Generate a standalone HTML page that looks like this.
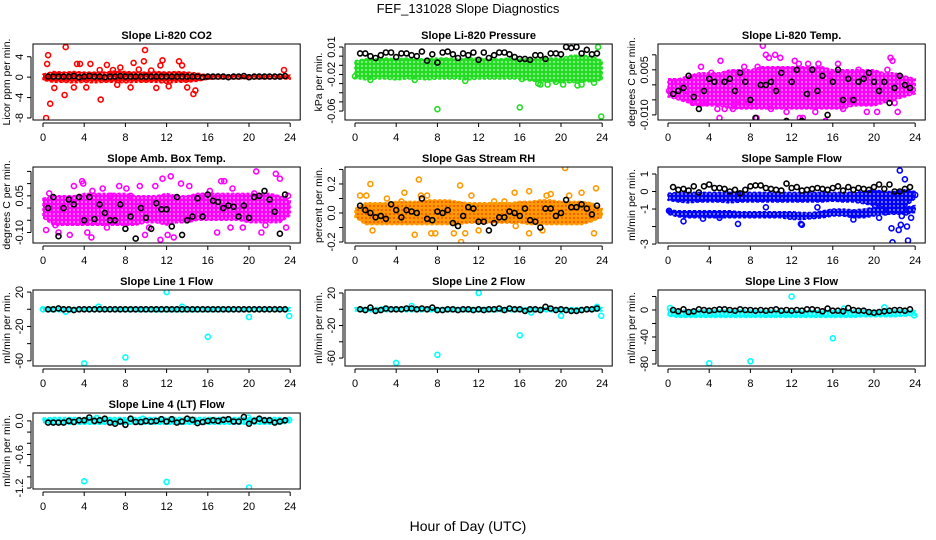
<!DOCTYPE html>
<html><head><meta charset="utf-8"><title>FEF_131028 Slope Diagnostics</title>
<style>
html,body{margin:0;padding:0;background:#fff;}
svg{display:block;font-family:"Liberation Sans",Arial,sans-serif;}
</style></head>
<body>
<svg id="chart" width="936" height="540" viewBox="0 0 936 540" xmlns="http://www.w3.org/2000/svg">
<rect x="0" y="0" width="936" height="540" fill="#fff"/>
<text x="468" y="13" text-anchor="middle" font-size="13">FEF_131028  Slope Diagnostics</text>
<text x="468" y="531" text-anchor="middle" font-size="14">Hour of Day (UTC)</text>
</svg>
<script>
// ---- data (hours 0..24 for bands; black series at 0.5h steps) ----
const bandHours = [0,1,2,3,4,5,6,7,8,9,10,11,12,13,14,15,16,17,18,19,20,21,22,23,24];
const xTicks = [0,4,8,12,16,20,24];

const co2BandLo = [-0.6,-1,-1,-1.1,-1,-1.1,-1,-1,-1.1,-1,-1,-1,-1.2,-1,-1,-0.8,-0.4,-0.3,-0.3,-0.3,-0.3,-0.3,-0.3,-0.3,-0.4];
const co2BandHi = [0.6,1.1,1,1.1,1,1,1,1.2,1.1,1,1,1.1,1,1.1,1,0.8,0.4,0.3,0.3,0.3,0.3,0.3,0.3,0.3,0.4];
const co2ScatH = [0.3,0.5,0.4,0.7,2.2,2.1,3.3,3.6,4.6,5.6,5.5,6.2,7.5,8.5,8.8,9.9,9.8,11.4,11.6,11,13.2,13.5,14.6,14.8,14,12.2,1.1,3,23.4,9.3,4.2,6.8,10.5,7.2];
const co2ScatV = [-8,4.3,2.6,-5.2,5.9,-3.5,2.6,2.6,2.6,-4.4,1.4,2.4,1.9,-2,2.8,5.3,3.1,2.3,3.3,-2.1,3.1,2.3,-3.3,-2.6,-2,-1.8,-2.1,-2,1.4,1.5,-2,1.4,1.3,-1.5];
const co2Black = [0.1,0.1,0.1,0.1,0.1,0.2,0,0.1,0.2,0.1, 0.1,0,0.1,0.1,0.2,0.1,0.1,0.1,0.1,0.1, 0.1,0.1,0.1,0.1,0.1,0.1,0.1,0.1,0.1,0.1, 0,0.1,0.1,0.1,0.1,0,0.1,0.1,0.2,0, 0.1,0.1,0.1,0.1,0.1,0.1,0.2];

const presBandLo = [-0.024,-0.026,-0.025,-0.025,-0.026,-0.025,-0.025,-0.026,-0.025,-0.025,-0.025,-0.026,-0.025,-0.025,-0.025,-0.025,-0.025,-0.027,-0.028,-0.028,-0.029,-0.029,-0.028,-0.028,-0.026];
const presBandHi = [-0.005,-0.003,-0.003,-0.002,-0.003,-0.002,-0.003,-0.003,-0.002,-0.002,-0.003,-0.002,-0.002,-0.003,-0.003,-0.002,-0.003,-0.003,-0.002,-0.002,-0.002,0.001,0.001,0.0,-0.005];
const presScatH = [8,16,23.9,23.6,21.6,22,20.2,18.7,18,17.8,19.5,16.2,5.8,10.7,1.5,0,23.2];
const presScatV = [-0.058,-0.056,-0.066,0.01,-0.032,-0.031,-0.031,-0.031,-0.031,-0.03,-0.028,-0.025,-0.026,-0.027,-0.026,-0.022,-0.029];
const presBlack = [0.003,0.003,0,-0.002,0.001,0.004,0.004,-0.001,0.003,0.003, 0.001,0,0.005,-0.005,0.002,-0.007,0.004,0.005,0.002,-0.002, 0.003,0.001,0.004,-0.004,0.004,-0.002,0.001,0.004,0.004,0.002, -0.001,-0.003,-0.003,-0.004,0.001,0.001,-0.003,0.003,0.003,0.002, 0.01,0.009,0.01,0.003,0.007,0.002,0.003];

const tempBandLo = [-0.004,-0.005,-0.006,-0.007,-0.007,-0.007,-0.008,-0.008,-0.008,-0.008,-0.008,-0.008,-0.008,-0.008,-0.008,-0.008,-0.008,-0.008,-0.007,-0.007,-0.007,-0.006,-0.005,-0.004,-0.003];
const tempBandHi = [0.002,0.002,0.003,0.004,0.004,0.004,0.005,0.005,0.005,0.006,0.006,0.006,0.006,0.006,0.006,0.006,0.005,0.005,0.005,0.005,0.005,0.004,0.004,0.003,0.002];
const tempScatH = [0.1,0.9,1.8,2.4,2.9,3.2,3.5,4.2,4.8,5.1,5.0,5.5,6.3,6.6,7.4,7.8,8.6,8.7,9.2,9.5,9.8,10.4,10.0,10.9,11.5,12.3,12.7,12.8,13.1,13.6,14.3,14.6,15.3,15.7,16.5,17.0,17.8,18.5,19.3,20.3,21.3,21.6,21.8,22.3,22.0,23.5];
const tempScatV = [-0.002,0.001,-0.002,-0.006,-0.006,0.006,-0.006,0.004,-0.008,0.008,-0.011,-0.008,-0.008,-0.006,0.006,-0.006,-0.011,0.006,0.013,0.01,0.009,0.01,-0.008,0.009,-0.009,0.008,0.007,-0.011,-0.011,0.007,-0.009,0.007,-0.012,0.003,0.007,-0.008,-0.005,0.005,-0.009,-0.009,0.005,0.009,0.008,-0.009,-0.006,-0.001];
const tempBlack = [-0.003,-0.002,-0.001,0.003,-0.004,-0.008,-0.002,0.002,0.001,-0.013, 0.001,0.002,-0.002,0.004,0.001,-0.005,-0.011,0,0,0.001, -0.002,0.004,-0.012,0.001,0.005,-0.012,-0.003,0.005,-0.002,0.003, -0.01,0.001,0.005,-0.005,0.002,-0.005,0.001,0.002,0.004,0.001, -0.002,0.001,-0.006,-0.001,0.003,0,-0.001];

const ambBandLo = [-0.04,-0.07,-0.07,-0.07,-0.07,-0.07,-0.07,-0.07,-0.07,-0.07,-0.06,-0.06,-0.07,-0.06,-0.06,-0.05,-0.05,-0.05,-0.05,-0.05,-0.06,-0.06,-0.06,-0.06,-0.03];
const ambBandHi = [0.04,0.05,0.05,0.05,0.06,0.06,0.06,0.06,0.06,0.05,0.05,0.05,0.06,0.05,0.05,0.06,0.06,0.06,0.06,0.06,0.06,0.06,0.06,0.05,0.03];
const ambScatH = [0.3,0.6,1.2,1.5,2.6,3.0,3.8,3.9,4.3,4.7,4.8,5.8,6.2,6.6,7.4,8.1,8.5,9.4,9.9,10.3,10.9,11.4,11.6,12.1,12.4,12.7,13.4,14.2,15.5,16.2,16.9,17.3,17.6,18.2,18.4,19.4,20.5,20.7,21.2,21.6,22.6,23.0,23.6,23.8];
const ambScatV = [-0.09,0.06,-0.07,-0.1,-0.11,0.09,0.11,0.1,-0.1,-0.12,0.07,0.08,-0.08,0.05,0.09,0.08,0.05,0.09,-0.11,-0.08,0.09,-0.13,0.12,-0.11,0.13,-0.12,0.1,0.09,0.05,0.07,-0.1,0.11,0.11,-0.08,0.08,-0.08,0.06,0.15,-0.1,-0.07,0.14,0.12,-0.08,0.05];
const ambBlack = [0.0,0.045,-0.115,0.0,0.035,0.015,0.045,-0.05,0.045,-0.045, 0.015,-0.02,-0.05,-0.05,0.015,-0.085,-0.035,-0.125,0.0,-0.04, -0.085,0.02,-0.005,-0.005,-0.075,0.045,-0.11,-0.05,-0.035,0.04, -0.035,0.055,0.03,0.025,0.0,0.01,0.005,-0.035,0.01,-0.04, 0.045,0.05,0.07,0.035,-0.015,-0.105,0.055];

const rhBandLo = [-0.03,-0.08,-0.08,-0.08,-0.08,-0.08,-0.08,-0.08,-0.08,-0.08,-0.08,-0.07,-0.07,-0.07,-0.07,-0.07,-0.07,-0.08,-0.08,-0.08,-0.08,-0.08,-0.08,-0.06,-0.03];
const rhBandHi = [0.03,0.07,0.07,0.07,0.08,0.08,0.08,0.09,0.09,0.09,0.08,0.07,0.07,0.07,0.07,0.07,0.08,0.08,0.09,0.09,0.08,0.08,0.08,0.07,0.03];
const rhScatH = [0.5,1.1,1.5,1.7,3.1,4.5,4.8,5.8,6.2,6.4,7.0,7.4,7.8,9.6,10.2,10.3,10.7,11.3,12.0,13.5,14.5,15.5,15.6,16.9,16.9,18.2,18.6,19.0,20.4,20.8,22.0,23.2,23.4];
const rhScatV = [0.12,0.12,0.2,-0.12,0.1,0.08,0.14,-0.15,0.23,0.12,0.12,-0.14,-0.14,-0.14,0.19,-0.2,-0.14,0.12,-0.12,0.08,0.08,0.14,-0.09,-0.14,0.15,-0.12,0.12,0.13,0.31,0.12,0.14,-0.14,0.17];
const rhBlack = [0.05,0.02,0.0,-0.03,-0.02,-0.04,0.06,0.02,-0.03,0.02, 0.01,0.0,0.1,-0.04,-0.05,0.01,0.0,0.02,-0.07,-0.09, -0.02,0.04,0.03,-0.06,-0.06,-0.12,-0.07,-0.03,-0.03,0.01, 0.0,-0.02,0.03,-0.05,-0.06,-0.1,0.03,0.03,-0.02,0.0, 0.09,0.04,0.04,0.06,0.03,-0.01,0.05];

const sfBandLo = [-0.5,-0.6,-0.65,-0.6,-0.6,-0.6,-0.65,-0.6,-0.6,-0.6,-0.6,-0.6,-0.6,-0.6,-0.6,-0.6,-0.55,-0.6,-0.6,-0.7,-0.8,-0.9,-1.0,-0.9,-0.4];
const sfBandHi = [-0.1,-0.05,-0.05,-0.05,-0.05,-0.05,-0.05,-0.05,-0.05,-0.05,-0.05,-0.05,-0.05,-0.05,-0.05,-0.05,-0.05,-0.05,-0.05,0.0,0.1,0.0,0.0,0.1,0.0];
const sfBand2Lo = [-1.3,-1.45,-1.5,-1.5,-1.5,-1.5,-1.5,-1.5,-1.5,-1.5,-1.5,-1.5,-1.6,-1.6,-1.55,-1.5,-1.4,-1.4,-1.5,-1.5,-1.4,-1.3,-1.3,-1.3,-1.2];
const sfBand2Hi = [-1.05,-1.1,-1.1,-1.1,-1.1,-1.1,-1.1,-1.15,-1.15,-1.15,-1.15,-1.15,-1.15,-1.2,-1.2,-1.1,-1.0,-1.0,-1.05,-1.0,-0.9,-0.9,-0.9,-0.9,-0.8];
const sfScatH = [0.1,1.5,6.8,12.9,13.0,21.7,21.8,22.4,22.6,22.5,23.0,23.1,23.3,23.2,23.6,22.7,21.1,20.5,20.1,24.0,18.0,3.4,5.0,9.5,14.5];
const sfScatV = [-1.1,-1.7,-1.85,-1.85,-1.9,-2.1,-2.9,-2.2,-1.9,1.2,0.7,-1.2,-2.8,-2.0,-1.5,-1.4,-1.2,-1.5,-0.8,-0.2,-1.6,-1.55,-1.5,-0.9,-0.9];
const sfBlack = [0.25,0.1,0.15,0.05,0.3,-0.05,0.3,0.4,0.2,0.2, 0.15,0.0,0.1,-0.1,0.1,0.3,0.35,0.35,0.2,0.15, 0.1,0.05,0.45,0.2,0.25,0.05,0.1,0.15,0.2,0.15, 0.1,0.2,0.3,0.05,0.25,0.1,0.2,0.15,0.1,0.25, 0.4,0.15,0.4,0.0,0.0,0.15,0.25];

const l1BandLo = [-2,-3,-3,-3,-3,-3,-3,-3,-3,-3,-3,-3,-3,-3,-3,-3,-3,-3,-3,-3,-3,-3,-3,-3,-2];
const l1BandHi = [2,2,2,2,2,2,2,2,2,2,2,2,2,2,2,2,2,2,2,2,2,2,2,2,2];
const l1ScatH = [0,12,4,8,16,20,23.9,5.4,13.5,2.2];
const l1ScatV = [0,20,-63,-56,-32,-9,-8,3,3,-3];
const l1Black = [0,0,1,0,0,-1,0,0,0,0, 0,0,0,0,0,0,0,0,0,0, 0,0,0,0,0,0,0,0,0,0, 0,0,0,0,0,0,0,0,0,0, 0,0,0,0,0,0,0];

const l2BandLo = [-2,-3,-3,-3,-3,-3,-3,-3,-3,-3,-3,-3,-3,-3,-3,-3,-3,-3,-3,-3,-3,-3,-3,-3,-2];
const l2BandHi = [2,2,2,3,2,2,2,2,2,2,2,2,2,2,2,2,2,2,2,2,2,2,2,2,2];
const l2ScatH = [12,4,8,16,20,23.9,5.5,23.5,17.1];
const l2ScatV = [20,-66,-56,-32,-8,-8,4,3,-4];
const l2Black = [0,-1,2,-2,-1,1,0,0,0,1, 1,0,1,0,2,-1,-1,0,0,-1, 0,0,-1,0,-1,0,0,1,-1,1, 0,0,-2,0,0,-1,3,1,-1,0, -1,-2,-2,-1,0,0,1];

const l3BandLo = [-9,-11,-11,-11,-11,-11,-11,-11,-11,-11,-11,-11,-11,-11,-11,-11,-11,-11,-11,-10,-10,-10,-10,-9,-8];
const l3BandHi = [1,0,0,0,0,0,0,0,0,0,0,0,0,0,0,0,0,0,0,0,0,0,0,0,-1];
const l3ScatH = [12,4,8,16,0.2,23.9,17.1,21];
const l3ScatV = [20,-79,-76,-42,3,-8,2,4];
const l3Black = [0,-2,1,-3,-2,1,0,-1,0,1, 1,0,-1,1,0,0,-1,0,-1,0, 1,-1,0,-1,0,-1,1,1,0,-2, 2,-1,-1,-2,3,0,-1,-1,-3,-4, -3,-2,-1,0,0,-1,1];

const l4BandLo = [-0.03,-0.06,-0.06,-0.06,-0.06,-0.06,-0.06,-0.06,-0.06,-0.06,-0.06,-0.06,-0.06,-0.06,-0.06,-0.06,-0.06,-0.06,-0.06,-0.06,-0.06,-0.06,-0.06,-0.06,-0.03];
const l4BandHi = [0.05,0.06,0.06,0.06,0.06,0.06,0.06,0.06,0.06,0.06,0.06,0.06,0.06,0.06,0.06,0.06,0.06,0.06,0.06,0.06,0.06,0.06,0.06,0.06,0.03];
const l4ScatH = [4,12,20,5.2,9.7,19.9,23.9];
const l4ScatV = [-1.08,-1.09,-1.19,0.05,0.04,0.06,0.02];
const l4Black = [-0.03,-0.03,-0.03,-0.03,0.0,-0.02,0.01,0.01,0.06,0.0, 0.01,0.04,-0.03,-0.05,-0.01,-0.07,0.04,-0.02,-0.02,0.0, -0.01,0.0,0.03,-0.01,0.03,-0.03,-0.01,0.04,0.02,-0.04, -0.02,0.0,0.01,0.0,0.02,0.03,-0.01,-0.01,0.07,-0.05, 0.0,0.04,0.01,0.01,-0.03,-0.01,0.01];

// ---- layout ----
const colX0 = [43,355,668];
const rowTop = [44,167,290,413];
const BOX_H = 76, PXH = 10.3;
const NS = 'http://www.w3.org/2000/svg';
const svg = document.getElementById('chart');

const panels = [
 {key:'co2',title:'Slope Li-820 CO2',ylab:'Licor ppm per min.',col:0,row:0,ymin:-8.4,ymax:6.5,ticks:[-8,-4,0,4],labels:['-8','-4','0','4'],color:'#ff0000',band:[co2BandLo,co2BandHi],sh:co2ScatH,sv:co2ScatV,black:co2Black},
 {key:'pressure',title:'Slope Li-820 Pressure',ylab:'kPa per min.',col:1,row:0,ymin:-0.0698,ymax:0.0133,ticks:[-0.06,-0.05,-0.04,-0.03,-0.02,-0.01,0,0.01],labels:['-0.06','','','','-0.02','','','0.01'],color:'#22dd22',band:[presBandLo,presBandHi],sh:presScatH,sv:presScatV,black:presBlack},
 {key:'temp',title:'Slope Li-820 Temp.',ylab:'degrees C per min.',col:2,row:0,ymin:-0.0117,ymax:0.0136,ticks:[-0.01,-0.005,0,0.005,0.01],labels:['-0.010','','','0.005',''],color:'#ff00ff',band:[tempBandLo,tempBandHi],sh:tempScatH,sv:tempScatV,black:tempBlack},
 {key:'amb-box',title:'Slope Amb. Box Temp.',ylab:'degrees C per min.',col:0,row:1,ymin:-0.143,ymax:0.168,ticks:[-0.1,-0.05,0,0.05,0.1,0.15],labels:['-0.10','','','0.05','',''],color:'#ff00ff',band:[ambBandLo,ambBandHi],sh:ambScatH,sv:ambScatV,black:ambBlack},
 {key:'gas-rh',title:'Slope Gas Stream RH',ylab:'percent per min.',col:1,row:1,ymin:-0.207,ymax:0.317,ticks:[-0.2,-0.1,0,0.1,0.2,0.3],labels:['-0.2','','0.0','','0.2',''],color:'#ff9900',fill:'#ee2200',band:[rhBandLo,rhBandHi],sh:rhScatH,sv:rhScatV,black:rhBlack},
 {key:'sample-flow',title:'Slope Sample Flow',ylab:'ml/min per min.',col:2,row:1,ymin:-2.94,ymax:1.4,ticks:[-3,-2,-1,0,1],labels:['-3','','-1','0','1'],color:'#0000ff',band:[sfBandLo,sfBandHi],band2:[sfBand2Lo,sfBand2Hi],sh:sfScatH,sv:sfScatV,black:sfBlack},
 {key:'line1',title:'Slope Line 1 Flow',ylab:'ml/min per min.',col:0,row:2,ymin:-66,ymax:22.4,ticks:[-60,-40,-20,0,20],labels:['-60','','-20','','20'],color:'#00ffff',band:[l1BandLo,l1BandHi],sh:l1ScatH,sv:l1ScatV,black:l1Black},
 {key:'line2',title:'Slope Line 2 Flow',ylab:'ml/min per min.',col:1,row:2,ymin:-69.8,ymax:23.7,ticks:[-60,-40,-20,0,20],labels:['-60','','-20','','20'],color:'#00ffff',band:[l2BandLo,l2BandHi],sh:l2ScatH,sv:l2ScatV,black:l2Black},
 {key:'line3',title:'Slope Line 3 Flow',ylab:'ml/min per min.',col:2,row:2,ymin:-83,ymax:29.6,ticks:[-80,-60,-40,-20,0,20],labels:['-80','','-40','','0',''],color:'#00ffff',band:[l3BandLo,l3BandHi],sh:l3ScatH,sv:l3ScatV,black:l3Black},
 {key:'line4',title:'Slope Line 4 (LT) Flow',ylab:'ml/min per min.',col:0,row:3,ymin:-1.217,ymax:0.141,ticks:[-1.2,-1.0,-0.8,-0.6,-0.4,-0.2,0],labels:['-1.2','','','-0.6','','','0.0'],color:'#00ffff',band:[l4BandLo,l4BandHi],sh:l4ScatH,sv:l4ScatV,black:l4Black}
];

function mk(tag, attrs, parent){
  const e = document.createElementNS(NS, tag);
  for (const k in attrs) e.setAttribute(k, attrs[k]);
  (parent||svg).appendChild(e);
  return e;
}
const defs = mk('defs', {});

panels.forEach(p => {
  const x0 = colX0[p.col], top = rowTop[p.row], bot = top + BOX_H;
  const xs = h => x0 + h * PXH;
  const ys = v => top + (p.ymax - v) / (p.ymax - p.ymin) * BOX_H;
  const left = x0 - 10, right = x0 + 24 * PXH + 10;
  const g = mk('g', {});
  
  

  // ring texture pattern
  const patId = 'pat-' + p.key;
  const pat = mk('pattern', {id: patId, width: 4, height: 4, patternUnits: 'userSpaceOnUse'}, defs);
  mk('rect', {x: 0, y: 0, width: 4, height: 4, fill: p.color}, pat);
  mk('circle', {cx: 2, cy: 2, r: 0.9, fill: p.fill || '#ffffff', 'fill-opacity': p.fill ? 0.8 : 0.75}, pat);

  const clipId = 'clip-' + p.key;
  const cp = mk('clipPath', {id: clipId}, g);
  mk('rect', {x: left, y: top, width: right - left, height: BOX_H}, cp);
  const plot = mk('g', {'clip-path': 'url(#' + clipId + ')'}, g);

  const bands = [p.band]; if (p.band2) bands.push(p.band2);
  bands.forEach((b, bi) => {
    let pts = bandHours.map((h, i) => xs(h).toFixed(1) + ',' + ys(b[1][i]).toFixed(1));
    for (let i = bandHours.length - 1; i >= 0; i--) pts.push(xs(bandHours[i]).toFixed(1) + ',' + ys(b[0][i]).toFixed(1));
    const poly = mk('polygon', {points: pts.join(' '), fill: 'url(#' + patId + ')', stroke: p.color, 'stroke-width': 1.5, 'stroke-dasharray': '3 2', 'stroke-linejoin': 'round'}, plot);
    
    
  });
  p.sh.forEach((h, i) => {
    const c = mk('circle', {cx: xs(h).toFixed(1), cy: ys(p.sv[i]).toFixed(1), r: 2.5, fill: 'none', stroke: p.color, 'stroke-width': 1.6}, plot);
    
    
  });
  p.black.forEach((v, i) => {
    const c = mk('circle', {cx: xs(0.5 + i * 0.5).toFixed(1), cy: ys(v).toFixed(1), r: 2.5, fill: 'none', stroke: '#000', 'stroke-width': 1.6}, plot);
    
    
  });

  const box = mk('rect', {x: left, y: top, width: right - left, height: BOX_H, fill: 'none', stroke: '#000', 'stroke-width': 1}, g);
  
  

  const xa = mk('g', {}, g);
  
  
  mk('line', {x1: xs(0), x2: xs(24), y1: bot + 3, y2: bot + 3, stroke: '#000'}, xa);
  xTicks.forEach(t => {
    mk('line', {x1: xs(t), x2: xs(t), y1: bot + 3, y2: bot + 7, stroke: '#000'}, xa);
    const tx = mk('text', {x: xs(t), y: bot + 21, 'text-anchor': 'middle', 'font-size': 11}, xa);
    tx.textContent = t;
  });
  const ya = mk('g', {}, g);
  
  
  const ax = left - 2;
  mk('line', {x1: ax, x2: ax, y1: ys(p.ticks[0]), y2: ys(p.ticks[p.ticks.length - 1]), stroke: '#000'}, ya);
  p.ticks.forEach((t, i) => {
    const y = ys(t);
    mk('line', {x1: ax - 4, x2: ax, y1: y, y2: y, stroke: '#000'}, ya);
    if (p.labels[i]) {
      const tx = mk('text', {x: ax - 8, y: y, 'text-anchor': 'middle', 'font-size': 11, transform: 'rotate(-90 ' + (ax - 8) + ' ' + y + ')'}, ya);
      tx.textContent = p.labels[i];
    }
  });
  const yt = mk('text', {x: left - 23, y: top + BOX_H / 2, 'text-anchor': 'middle', 'font-size': 10.5, transform: 'rotate(-90 ' + (left - 23) + ' ' + (top + BOX_H / 2) + ')'}, g);
  yt.textContent = p.ylab;
  
  
  const tt = mk('text', {x: (left + right) / 2, y: top - 5, 'text-anchor': 'middle', 'font-size': 11, 'font-weight': 'bold'}, g);
  tt.textContent = p.title;
  
  
});
</script>
</body></html>
